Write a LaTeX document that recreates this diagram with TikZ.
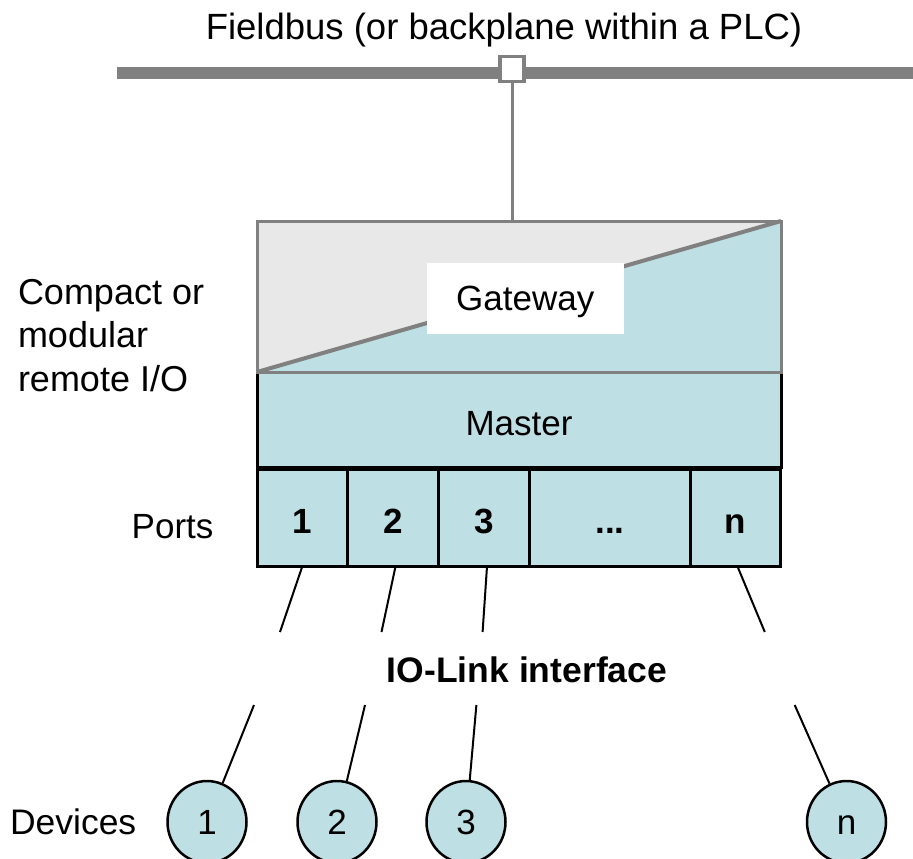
\documentclass[tikz,border=0pt]{standalone}
\usepackage{fontspec}
\setmainfont{Liberation Sans}
\usetikzlibrary{shapes.geometric}
\definecolor{lblue}{RGB}{190,223,227}
\definecolor{lgray}{RGB}{232,232,232}
\definecolor{dgray}{RGB}{128,128,128}
\begin{document}
\begin{tikzpicture}[x=1pt,y=-1pt,
  txt/.style={inner sep=0pt, outer sep=0pt, font=\fontsize{35}{43.5}\selectfont},
  portbox/.style={draw=black, line width=3pt, fill=lblue, inner sep=0pt, outer sep=0pt,
    minimum height=97pt, anchor=north west, text height=30pt, text depth=0pt,
    font=\fontsize{35}{42}\selectfont\bfseries},
  device/.style={ellipse, draw=black, line width=2.5pt, fill=lblue, inner sep=0pt,
    minimum width=79pt, minimum height=82pt, text height=24pt, text depth=0pt,
    font=\fontsize{35}{42}\selectfont},
  link/.style={draw=black, line width=2pt},
  grayline/.style={draw=dgray, line width=3pt}]
\useasboundingbox (0,0) rectangle (913,859);

% fieldbus
\node[txt, anchor=base, font=\fontsize{36.5}{44}\selectfont] (fbtext) at (504,39.5) {Fieldbus (or backplane within a PLC)};
\coordinate (busL) at (117,73.5);
\coordinate (busR) at (913,73.5);
\draw[draw=dgray, line width=12pt] (busL) -- (busR);
\node[draw=dgray, line width=3.5pt, fill=white, minimum width=24pt, minimum height=25pt,
  inner sep=0pt, outer sep=0pt] (tap) at (512,69) {};

% gateway area
\fill[lgray] (257,221) -- (781,221) -- (257,372) -- cycle;
\fill[lblue] (781,221) -- (781,372) -- (257,372) -- cycle;
\draw[draw=dgray, line width=4pt] (257,372) -- (781,221);

% master
\node[draw=black, line width=3pt, fill=lblue, minimum width=524pt, minimum height=95pt,
  inner sep=0pt, outer sep=0pt, text height=31pt, text depth=0pt,
  font=\fontsize{35}{42}\selectfont] (master) at (519,419.5) {Master};

\node[draw=dgray, line width=3pt, minimum width=524pt, minimum height=151pt,
  inner sep=0pt, outer sep=0pt] (gw) at (519,296.5) {};
\node[fill=white, minimum width=197.5pt, minimum height=71pt, inner sep=0pt,
  text height=24.4pt, text depth=0pt, font=\fontsize{35}{42}\selectfont]
  (gwlabel) at (525.25,298.5) {Gateway};

\draw[grayline] (tap.south) -- (tap.south |- gw.north);

% ports
\node[portbox, minimum width=90.5pt] (p1) at (257,469.5) {1};
\node[portbox, minimum width=91pt] (p2) at (p1.north east) {2};
\node[portbox, minimum width=91pt] (p3) at (p2.north east) {3};
\node[portbox, minimum width=161pt] (p4) at (p3.north east) {...};
\node[portbox, minimum width=90pt] (pn) at (p4.north east) {n};

% labels
\node[txt, anchor=base west, align=left, font=\fontsize{36}{43.5}\selectfont] (remio) at (18,391) {Compact or\\modular\\remote I/O};
\node[txt, anchor=base west] (portslbl) at (131.7,538.3) {Ports};
\node[txt, anchor=base west, font=\fontsize{35.5}{42}\selectfont] (devlbl) at (10,834) {Devices};
\node[txt, anchor=base, font=\fontsize{35.5}{42}\selectfont\bfseries] (iolink) at (527,682.7) {IO-Link interface};

% devices
\node[device] (d1) at (207,822) {1};
\node[device] (d2) at (337,822) {2};
\node[device] (d3) at (466,822) {3};
\node[device] (dn) at (846.5,822) {n};

% links
\coordinate (g1a) at (280,632);   \coordinate (g1b) at (254,705);
\coordinate (g2a) at (381.5,632); \coordinate (g2b) at (365,705);
\coordinate (g3a) at (482.6,632); \coordinate (g3b) at (476.4,705);
\coordinate (gna) at (764.8,632); \coordinate (gnb) at (794.7,705);
\draw[link] (p1.south) -- (g1a);
\draw[link] ([xshift=2.5pt]p2.south) -- (g2a);
\draw[link] ([xshift=3pt]p3.south) -- (g3a);
\draw[link] ([xshift=2pt]pn.south) -- (gna);
\draw[link] (g1b) -- (d1);
\draw[link] (g2b) -- (d2);
\draw[link] (g3b) -- (d3);
\draw[link] (gnb) -- (dn);
\end{tikzpicture}
\end{document}
